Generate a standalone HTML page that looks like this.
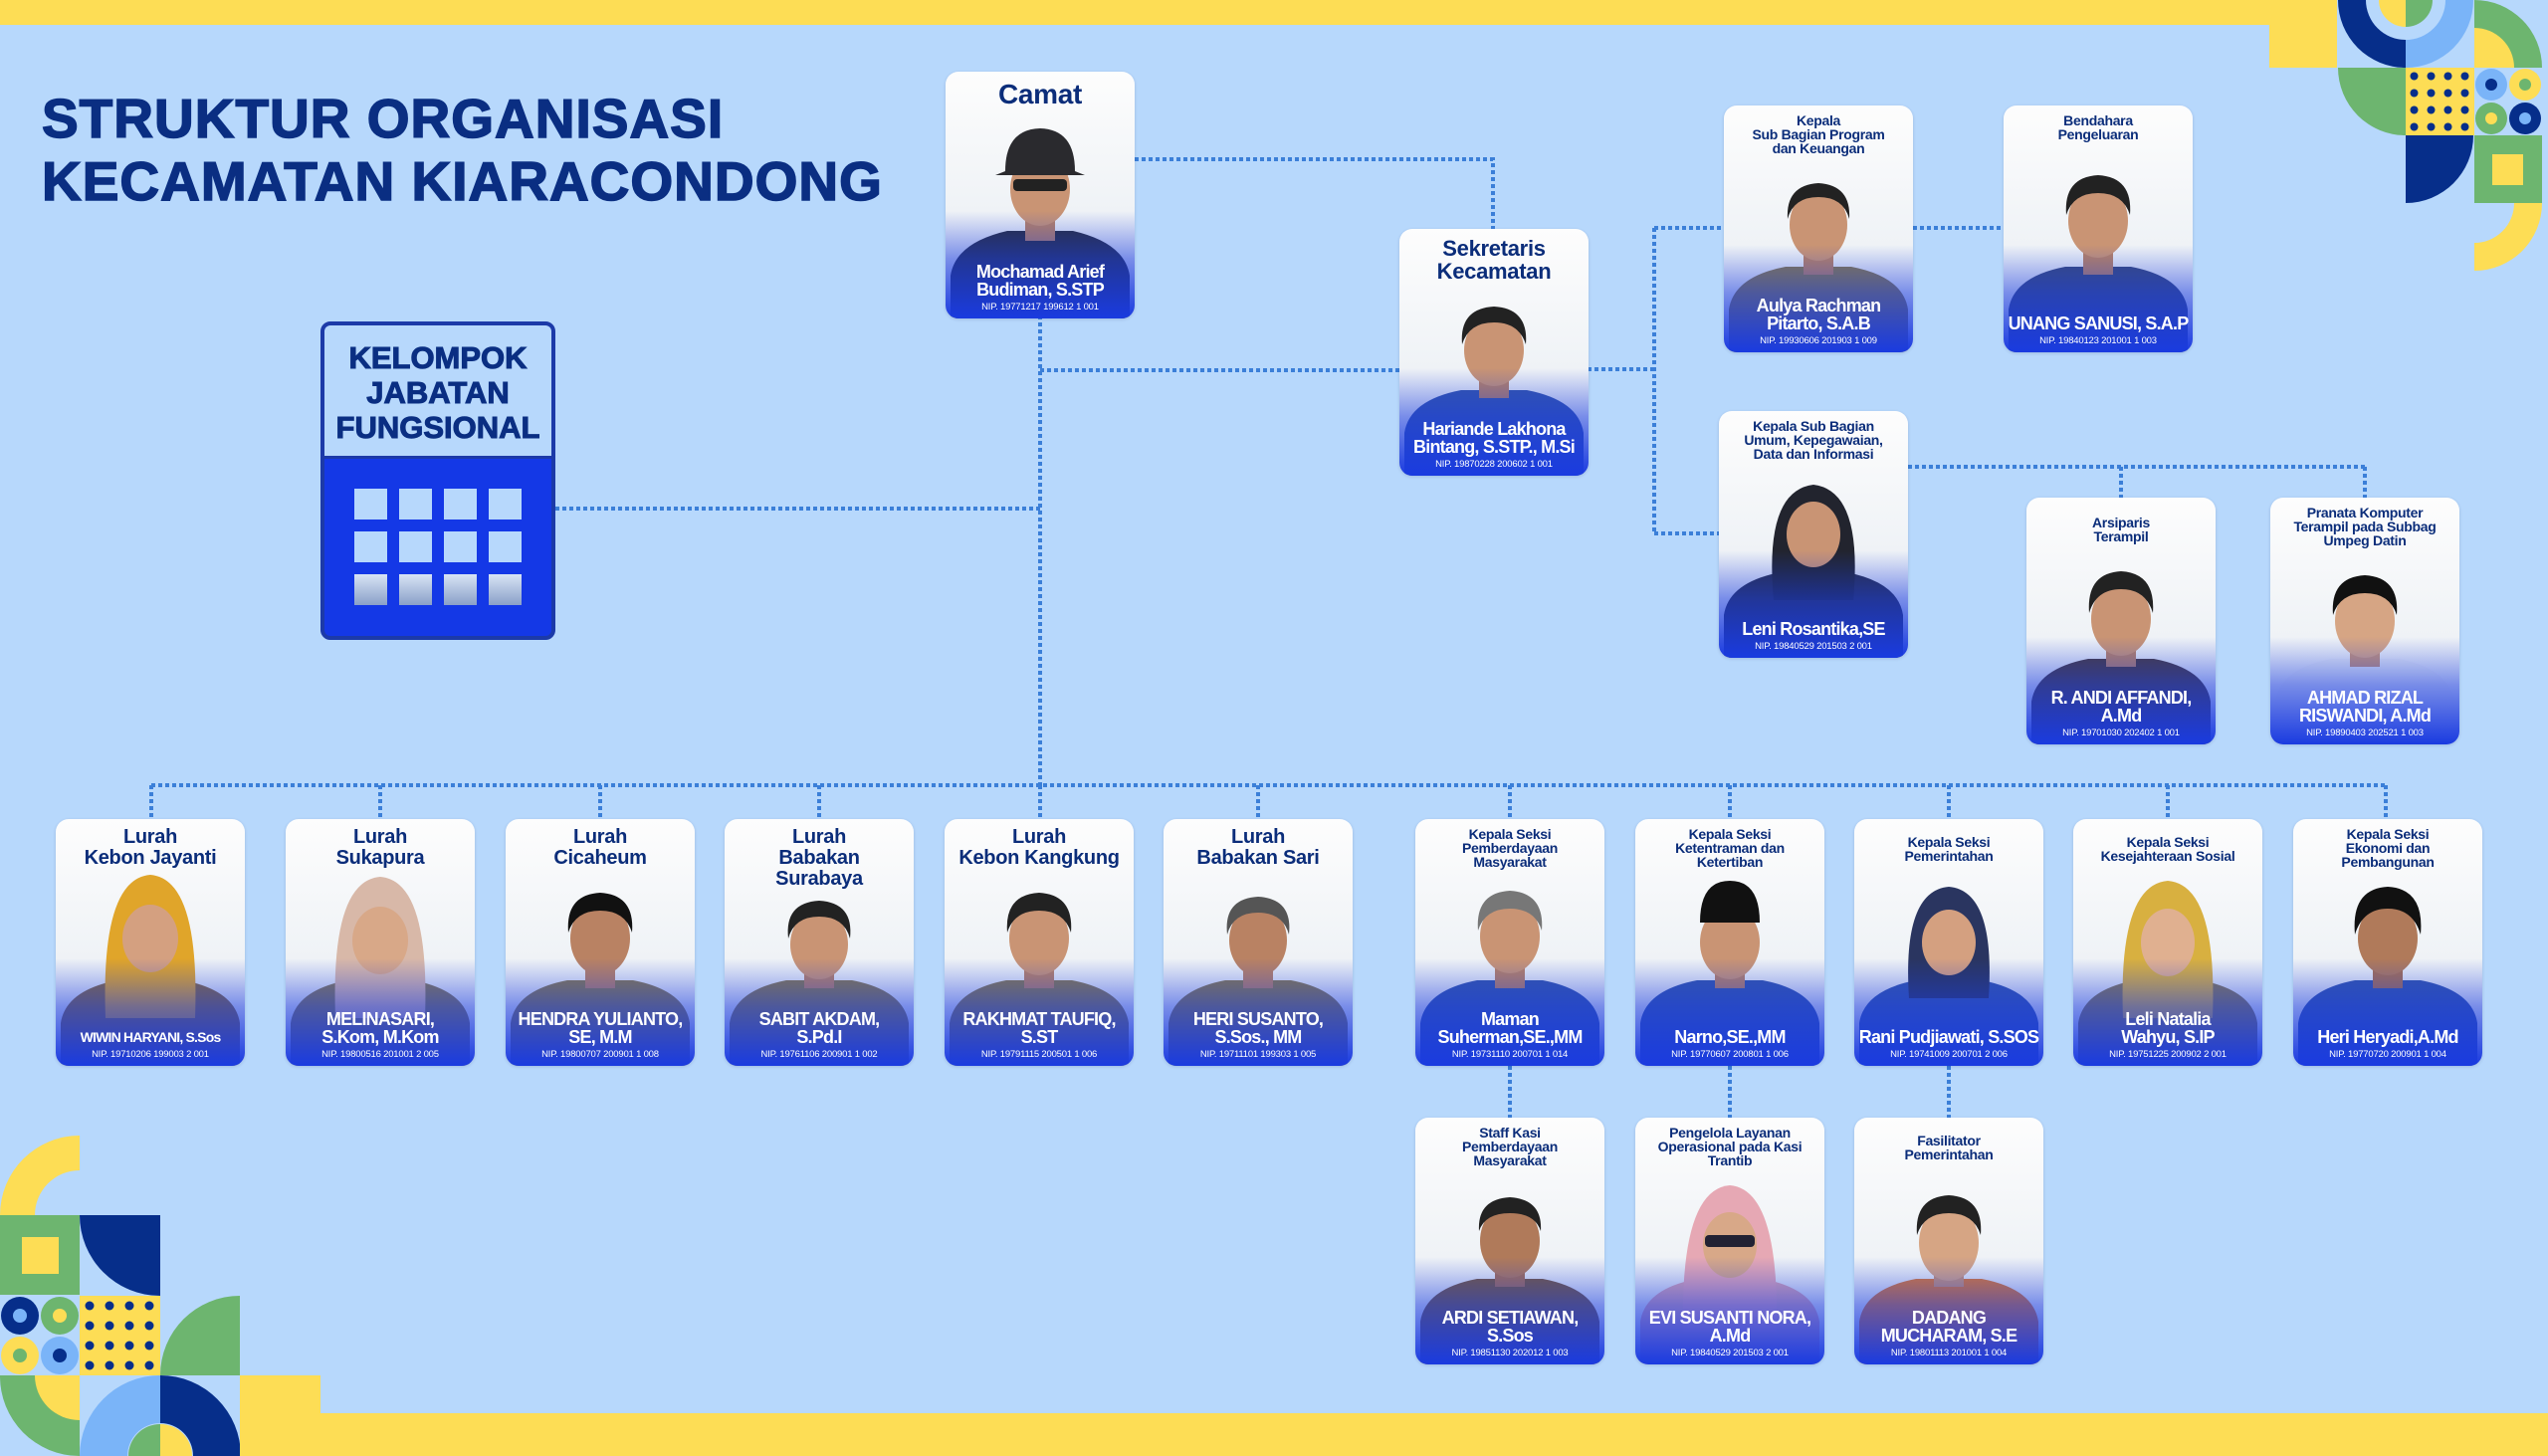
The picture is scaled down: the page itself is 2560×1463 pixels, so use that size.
<!DOCTYPE html>
<html><head><meta charset="utf-8">
<style>
*{margin:0;padding:0;box-sizing:border-box}
body{width:2560px;height:1463px;background:#b7d8fc;position:relative;overflow:hidden;font-family:"Liberation Sans",sans-serif}
.abs{position:absolute}
.card{position:absolute;width:190px;height:248px;border-radius:13px;overflow:hidden;background:linear-gradient(#fdfdfd,#e4eaf1);box-shadow:0 1px 3px rgba(0,0,60,.15)}
.card .t{position:absolute;top:8px;left:4px;right:4px;text-align:center;color:#0b2d7a;font-weight:bold;font-size:14px;line-height:14px;letter-spacing:-.3px;z-index:3}
.card .t.l{font-size:20px;line-height:21px}
.card svg{position:absolute;left:0;top:0}
.card .g{position:absolute;left:0;right:0;top:140px;bottom:0;background:linear-gradient(rgba(27,61,224,0) 0%,rgba(27,61,224,.55) 45%,#1a3be0 100%);z-index:2}
.card .b{position:absolute;left:4px;right:4px;bottom:6px;text-align:center;color:#fff;z-index:3}
.card .n{font-weight:bold;font-size:18px;line-height:18px;letter-spacing:-.8px}
.card .p{font-size:9.5px;margin-top:3px;letter-spacing:-.2px}
</style></head><body>

<div class="abs" style="left:0;top:0;width:2348px;height:25px;background:#fddd55"></div>
<div class="abs" style="left:2280px;top:0;width:68px;height:68px;background:#fddd55"></div>
<div class="abs" style="left:241px;top:1420px;width:2319px;height:43px;background:#fddd55"></div>

<svg class="abs" style="left:0;top:0" width="2560" height="1463">
 <defs><pattern id="dots" x="2417" y="68" width="17" height="17" patternUnits="userSpaceOnUse"><circle cx="8.5" cy="8.5" r="4" fill="#062e8a"/></pattern>
 <pattern id="dots2" x="80" y="1302" width="20" height="20" patternUnits="userSpaceOnUse"><circle cx="10" cy="10" r="4.5" fill="#062e8a"/></pattern></defs>
 <path d="M2349 0 A68 68 0 0 0 2417 68 V40 A40 40 0 0 1 2377 0Z" fill="#062e8a"/>
 <path d="M2417 68 A68 68 0 0 0 2485 0 H2457 A40 40 0 0 1 2417 40Z" fill="#7ab4f8"/>
 <path d="M2417 0 V27 A27 27 0 0 1 2390 0Z" fill="#fddd55"/>
 <path d="M2417 0 V27 A27 27 0 0 0 2444 0Z" fill="#6db56f"/>
 <path d="M2486 68 V0 A68 68 0 0 1 2554 68Z" fill="#6db56f"/>
 <path d="M2486 68 V28 A40 40 0 0 1 2526 68Z" fill="#fddd55"/>
 <path d="M2417 68 V136 A68 68 0 0 1 2349 68Z" fill="#6db56f"/>
 <rect x="2417" y="68" width="69" height="68" fill="#fddd55"/>
 <rect x="2417" y="68" width="69" height="68" fill="url(#dots)"/>
 <circle cx="2503" cy="85" r="16" fill="#7ab4f8"/><circle cx="2503" cy="85" r="6" fill="#062e8a"/>
 <circle cx="2537" cy="85" r="16" fill="#fddd55"/><circle cx="2537" cy="85" r="6" fill="#6db56f"/>
 <circle cx="2503" cy="119" r="16" fill="#6db56f"/><circle cx="2503" cy="119" r="6" fill="#fddd55"/>
 <circle cx="2537" cy="119" r="16" fill="#062e8a"/><circle cx="2537" cy="119" r="6" fill="#7ab4f8"/>
 <path d="M2417 136 H2485 A68 68 0 0 1 2417 204Z" fill="#062e8a"/>
 <rect x="2486" y="136" width="68" height="68" fill="#6db56f"/>
 <rect x="2504" y="155" width="31" height="31" fill="#fddd55"/>
 <path d="M2554 204 A68 68 0 0 1 2486 272 V244 A40 40 0 0 0 2526 204Z" fill="#fddd55"/>
 <path d="M80 1141 A80 80 0 0 0 0 1221 H35 A45 45 0 0 1 80 1176Z" fill="#fddd55"/>
 <rect x="0" y="1221" width="80" height="80" fill="#6db56f"/>
 <rect x="22" y="1243" width="37" height="37" fill="#fddd55"/>
 <path d="M80 1221 H161 V1302 A81 81 0 0 1 80 1221Z" fill="#062e8a"/>
 <circle cx="20" cy="1322" r="19" fill="#062e8a"/><circle cx="20" cy="1322" r="7" fill="#7ab4f8"/>
 <circle cx="60" cy="1322" r="19" fill="#6db56f"/><circle cx="60" cy="1322" r="7" fill="#fddd55"/>
 <circle cx="20" cy="1362" r="19" fill="#fddd55"/><circle cx="20" cy="1362" r="7" fill="#6db56f"/>
 <circle cx="60" cy="1362" r="19" fill="#7ab4f8"/><circle cx="60" cy="1362" r="7" fill="#062e8a"/>
 <rect x="80" y="1302" width="81" height="80" fill="#fddd55"/>
 <rect x="80" y="1302" width="81" height="80" fill="url(#dots2)"/>
 <path d="M241 1302 V1382 H161 A80 80 0 0 1 241 1302Z" fill="#6db56f"/>
 <path d="M0 1382 H80 V1463 A80 80 0 0 1 0 1382Z" fill="#6db56f"/>
 <path d="M35 1382 H80 V1427 A45 45 0 0 1 35 1382Z" fill="#fddd55"/>
 <path d="M80 1463 A81 81 0 0 1 161 1382 V1430 A33 33 0 0 0 128 1463Z" fill="#7ab4f8"/>
 <path d="M161 1382 A81 81 0 0 1 242 1463 H194 A33 33 0 0 0 161 1430Z" fill="#062e8a"/>
 <path d="M161 1463 H129 A32 32 0 0 1 161 1431Z" fill="#6db56f"/>
 <path d="M161 1463 H193 A32 32 0 0 0 161 1431Z" fill="#fddd55"/>
 <rect x="241" y="1382" width="81" height="81" fill="#fddd55"/>

 <g stroke="#3b7fd8" stroke-width="4" stroke-dasharray="4 3" fill="none">
  <path d="M1140 160 H1500 V230"/>
  <path d="M1045 317 V789"/>
  <path d="M1045 372 H1406"/>
  <path d="M558 511 H1045"/>
  <path d="M152 789 H2397"/>
  <path d="M152 789 V823 M382 789 V823 M603 789 V823 M823 789 V823 M1045 789 V823 M1264 789 V823 M1517 789 V823 M1738 789 V823 M1958 789 V823 M2178 789 V823 M2397 789 V823"/>
  <path d="M1595 371 H1662 M1662 229 V536 M1662 229 H1732 M1662 536 H1727"/>
  <path d="M1922 229 H2013"/>
  <path d="M1917 469 H2376 M2131 469 V500 M2376 469 V500"/>
  <path d="M1517 1071 V1123 M1738 1071 V1123 M1958 1071 V1123"/>
 </g>
</svg>

<div class="abs" style="left:42px;top:88px;color:#0a2e82;font-weight:bold;font-size:55px;line-height:63px;letter-spacing:1px;-webkit-text-stroke:1.5px #0a2e82">STRUKTUR ORGANISASI<br>KECAMATAN KIARACONDONG</div>

<div class="abs" style="left:322px;top:323px;width:236px;height:320px;border:4px solid #1c3aa8;border-radius:10px;overflow:hidden;background:#1438e6">
 <div style="height:134px;background:#b7d8fc;border-bottom:3px solid #1c3aa8;color:#0a2e82;font-weight:bold;font-size:31px;line-height:35px;text-align:center;padding-top:15px;-webkit-text-stroke:1px #0a2e82">KELOMPOK<br>JABATAN<br>FUNGSIONAL</div>
 <svg width="236" height="180" style="position:absolute;left:0;top:134px">
  <defs><linearGradient id="fd" x1="0" y1="0" x2="0" y2="1"><stop offset="0" stop-color="#d8e4f5"/><stop offset="1" stop-color="#8aa0c8"/></linearGradient></defs>
  <g fill="#b7d8fc">
   <rect x="30" y="30" width="33" height="31"/><rect x="75" y="30" width="33" height="31"/><rect x="120" y="30" width="33" height="31"/><rect x="165" y="30" width="33" height="31"/>
   <rect x="30" y="73" width="33" height="31"/><rect x="75" y="73" width="33" height="31"/><rect x="120" y="73" width="33" height="31"/><rect x="165" y="73" width="33" height="31"/>
  </g>
  <g fill="url(#fd)">
   <rect x="30" y="116" width="33" height="31"/><rect x="75" y="116" width="33" height="31"/><rect x="120" y="116" width="33" height="31"/><rect x="165" y="116" width="33" height="31"/>
  </g>
 </svg>
</div>

<div class="card" style="left:950px;top:72px"><div class="t l" style="font-size:28px;line-height:30px">Camat</div>
<svg width="190" height="248"><path d="M5 248 V205 Q10 172 62 160 H128 Q180 172 185 205 V248Z" fill="#2a2d3a"/><rect x="80" y="140" width="30" height="30" fill="#b98263"/><ellipse cx="95" cy="118" rx="30" ry="37" fill="#c99474"/><path d="M60 100 Q60 58 95 57 Q130 58 130 100 L140 104 H50Z" fill="#2a2a2e"/><rect x="68" y="108" width="54" height="12" rx="4" fill="#222"/></svg>
<div class="g"></div><div class="b"><div class="n">Mochamad Arief Budiman, S.STP</div><div class="p">NIP. 19771217 199612 1 001</div></div></div>

<div class="card" style="left:1406px;top:230px"><div class="t l" style="font-size:22px;line-height:23px">Sekretaris<br>Kecamatan</div>
<svg width="190" height="248"><path d="M5 248 V205 Q10 172 62 162 H128 Q180 172 185 205 V248Z" fill="#3556a8"/><rect x="80" y="140" width="30" height="30" fill="#b98263"/><ellipse cx="95" cy="122" rx="30" ry="36" fill="#c99474"/><path d="M63 116 Q60 80 95 78 Q130 80 127 116 Q120 94 95 94 Q70 94 63 116Z" fill="#222"/></svg>
<div class="g"></div><div class="b"><div class="n">Hariande Lakhona Bintang, S.STP., M.Si</div><div class="p">NIP. 19870228 200602 1 001</div></div></div>

<div class="card" style="left:1732px;top:106px"><div class="t">Kepala<br>Sub Bagian Program<br>dan Keuangan</div>
<svg width="190" height="248"><path d="M5 248 V205 Q10 172 62 162 H128 Q180 172 185 205 V248Z" fill="#8a7a4a"/><rect x="80" y="140" width="30" height="30" fill="#b98263"/><ellipse cx="95" cy="120" rx="29" ry="36" fill="#c99474"/><path d="M64 114 Q62 80 95 78 Q128 80 126 114 Q120 92 95 92 Q70 92 64 114Z" fill="#222"/></svg>
<div class="g"></div><div class="b"><div class="n">Aulya Rachman Pitarto, S.A.B</div><div class="p">NIP. 19930606 201903 1 009</div></div></div>

<div class="card" style="left:2013px;top:106px"><div class="t">Bendahara<br>Pengeluaran</div>
<svg width="190" height="248"><path d="M5 248 V205 Q10 172 62 162 H128 Q180 172 185 205 V248Z" fill="#3a4a78"/><rect x="80" y="140" width="30" height="30" fill="#b98263"/><ellipse cx="95" cy="116" rx="30" ry="37" fill="#c99474"/><path d="M63 110 Q60 72 95 70 Q130 72 127 110 Q120 88 95 88 Q70 88 63 110Z" fill="#222"/></svg>
<div class="g"></div><div class="b"><div class="n">UNANG SANUSI, S.A.P</div><div class="p">NIP. 19840123 201001 1 003</div></div></div>

<div class="card" style="left:1727px;top:413px"><div class="t">Kepala Sub Bagian<br>Umum, Kepegawaian,<br>Data dan Informasi</div>
<svg width="190" height="248"><path d="M5 248 V205 Q10 172 62 162 H128 Q180 172 185 205 V248Z" fill="#2a2d40"/><path d="M55 190 Q45 80 95 74 Q145 80 135 190Z" fill="#22242e"/><ellipse cx="95" cy="124" rx="27" ry="33" fill="#c99474"/></svg>
<div class="g"></div><div class="b"><div class="n">Leni Rosantika,SE</div><div class="p">NIP. 19840529 201503 2 001</div></div></div>

<div class="card" style="left:2036px;top:500px"><div class="t" style="top:18px">Arsiparis<br>Terampil</div>
<svg width="190" height="248"><path d="M5 248 V205 Q10 172 62 162 H128 Q180 172 185 205 V248Z" fill="#4a3a3a"/><rect x="80" y="140" width="30" height="30" fill="#b98263"/><ellipse cx="95" cy="122" rx="30" ry="37" fill="#c99474"/><path d="M63 116 Q60 76 95 74 Q130 76 127 116 Q120 92 95 92 Q70 92 63 116Z" fill="#222"/></svg>
<div class="g"></div><div class="b"><div class="n">R. ANDI AFFANDI, A.Md</div><div class="p">NIP. 19701030 202402 1 001</div></div></div>

<div class="card" style="left:2281px;top:500px"><div class="t">Pranata Komputer<br>Terampil pada Subbag<br>Umpeg Datin</div>
<svg width="190" height="248"><path d="M5 248 V205 Q10 172 62 162 H128 Q180 172 185 205 V248Z" fill="#e8ecf2"/><rect x="80" y="140" width="30" height="30" fill="#c99474"/><ellipse cx="95" cy="124" rx="30" ry="37" fill="#d6a584"/><path d="M63 118 Q60 80 95 78 Q130 80 127 118 Q120 96 95 96 Q70 96 63 118Z" fill="#111"/></svg>
<div class="g"></div><div class="b"><div class="n">AHMAD RIZAL RISWANDI, A.Md</div><div class="p">NIP. 19890403 202521 1 003</div></div></div>

<div class="card" style="left:56px;top:823px"><div class="t l">Lurah<br>Kebon Jayanti</div>
<svg width="190" height="248"><path d="M5 248 V205 Q10 172 62 162 H128 Q180 172 185 205 V248Z" fill="#8a6a3a"/><path d="M50 200 Q45 60 95 56 Q145 60 140 200Z" fill="#e0a52a"/><ellipse cx="95" cy="120" rx="28" ry="34" fill="#d4a080"/></svg>
<div class="g"></div><div class="b"><div class="n" style="font-size:14px">WIWIN HARYANI, S.Sos</div><div class="p">NIP. 19710206 199003 2 001</div></div></div>

<div class="card" style="left:287px;top:823px"><div class="t l">Lurah<br>Sukapura</div>
<svg width="190" height="248"><path d="M5 248 V205 Q10 172 62 162 H128 Q180 172 185 205 V248Z" fill="#8a7a50"/><path d="M50 200 Q45 62 95 58 Q145 62 140 200Z" fill="#d8b8a8"/><ellipse cx="95" cy="122" rx="28" ry="34" fill="#d8a888"/></svg>
<div class="g"></div><div class="b"><div class="n">MELINASARI,<br>S.Kom, M.Kom</div><div class="p">NIP. 19800516 201001 2 005</div></div></div>

<div class="card" style="left:508px;top:823px"><div class="t l">Lurah<br>Cicaheum</div>
<svg width="190" height="248"><path d="M5 248 V205 Q10 172 62 162 H128 Q180 172 185 205 V248Z" fill="#8a7a4a"/><rect x="80" y="140" width="30" height="30" fill="#b98263"/><ellipse cx="95" cy="120" rx="30" ry="37" fill="#b98263"/><path d="M63 114 Q60 76 95 74 Q130 76 127 114 Q120 92 95 92 Q70 92 63 114Z" fill="#111"/></svg>
<div class="g"></div><div class="b"><div class="n">HENDRA YULIANTO, SE, M.M</div><div class="p">NIP. 19800707 200901 1 008</div></div></div>

<div class="card" style="left:728px;top:823px"><div class="t l">Lurah<br>Babakan<br>Surabaya</div>
<svg width="190" height="248"><path d="M5 248 V205 Q10 172 62 162 H128 Q180 172 185 205 V248Z" fill="#8a7a4a"/><rect x="80" y="140" width="30" height="30" fill="#b98263"/><ellipse cx="95" cy="126" rx="29" ry="35" fill="#c99474"/><path d="M64 120 Q60 84 95 82 Q130 84 126 120 Q120 98 95 98 Q70 98 64 120Z" fill="#222"/></svg>
<div class="g"></div><div class="b"><div class="n">SABIT AKDAM,<br>S.Pd.I</div><div class="p">NIP. 19761106 200901 1 002</div></div></div>

<div class="card" style="left:949px;top:823px"><div class="t l">Lurah<br>Kebon Kangkung</div>
<svg width="190" height="248"><path d="M5 248 V205 Q10 172 62 162 H128 Q180 172 185 205 V248Z" fill="#8a7a4a"/><rect x="80" y="140" width="30" height="30" fill="#b98263"/><ellipse cx="95" cy="120" rx="30" ry="37" fill="#c99474"/><path d="M63 114 Q60 76 95 74 Q130 76 127 114 Q120 92 95 92 Q70 92 63 114Z" fill="#222"/></svg>
<div class="g"></div><div class="b"><div class="n">RAKHMAT TAUFIQ, S.ST</div><div class="p">NIP. 19791115 200501 1 006</div></div></div>

<div class="card" style="left:1169px;top:823px"><div class="t l">Lurah<br>Babakan Sari</div>
<svg width="190" height="248"><path d="M5 248 V205 Q10 172 62 162 H128 Q180 172 185 205 V248Z" fill="#8a7a4a"/><rect x="80" y="140" width="30" height="30" fill="#b98263"/><ellipse cx="95" cy="122" rx="29" ry="36" fill="#b98263"/><path d="M64 116 Q60 80 95 78 Q130 80 126 116 Q120 94 95 94 Q70 94 64 116Z" fill="#555"/></svg>
<div class="g"></div><div class="b"><div class="n">HERI SUSANTO, S.Sos., MM</div><div class="p">NIP. 19711101 199303 1 005</div></div></div>

<div class="card" style="left:1422px;top:823px"><div class="t">Kepala Seksi<br>Pemberdayaan<br>Masyarakat</div>
<svg width="190" height="248"><path d="M5 248 V205 Q10 172 62 162 H128 Q180 172 185 205 V248Z" fill="#3556a8"/><rect x="80" y="140" width="30" height="30" fill="#b98263"/><ellipse cx="95" cy="118" rx="30" ry="37" fill="#c99474"/><path d="M63 112 Q60 74 95 72 Q130 74 127 112 Q120 90 95 90 Q70 90 63 112Z" fill="#777"/></svg>
<div class="g"></div><div class="b"><div class="n">Maman Suherman,SE.,MM</div><div class="p">NIP. 19731110 200701 1 014</div></div></div>

<div class="card" style="left:1643px;top:823px"><div class="t">Kepala Seksi<br>Ketentraman dan<br>Ketertiban</div>
<svg width="190" height="248"><path d="M5 248 V205 Q10 172 62 162 H128 Q180 172 185 205 V248Z" fill="#3556a8"/><rect x="80" y="140" width="30" height="30" fill="#b98263"/><ellipse cx="95" cy="124" rx="30" ry="37" fill="#c99474"/><path d="M65 104 Q65 62 95 62 Q125 62 125 104Z" fill="#111"/></svg>
<div class="g"></div><div class="b"><div class="n">Narno,SE.,MM</div><div class="p">NIP. 19770607 200801 1 006</div></div></div>

<div class="card" style="left:1863px;top:823px"><div class="t" style="top:16px">Kepala Seksi<br>Pemerintahan</div>
<svg width="190" height="248"><path d="M5 248 V205 Q10 172 62 162 H128 Q180 172 185 205 V248Z" fill="#3556a8"/><path d="M55 180 Q48 72 95 68 Q142 72 135 180Z" fill="#2a3560"/><ellipse cx="95" cy="124" rx="27" ry="33" fill="#d4a080"/></svg>
<div class="g"></div><div class="b"><div class="n">Rani Pudjiawati, S.SOS</div><div class="p">NIP. 19741009 200701 2 006</div></div></div>

<div class="card" style="left:2083px;top:823px"><div class="t" style="top:16px">Kepala Seksi<br>Kesejahteraan Sosial</div>
<svg width="190" height="248"><path d="M5 248 V205 Q10 172 62 162 H128 Q180 172 185 205 V248Z" fill="#8a7a50"/><path d="M50 200 Q45 66 95 62 Q145 66 140 200Z" fill="#d8b040"/><ellipse cx="95" cy="124" rx="27" ry="34" fill="#e0b090"/></svg>
<div class="g"></div><div class="b"><div class="n">Leli Natalia<br>Wahyu, S.IP</div><div class="p">NIP. 19751225 200902 2 001</div></div></div>

<div class="card" style="left:2304px;top:823px"><div class="t">Kepala Seksi<br>Ekonomi dan<br>Pembangunan</div>
<svg width="190" height="248"><path d="M5 248 V205 Q10 172 62 162 H128 Q180 172 185 205 V248Z" fill="#3556a8"/><rect x="80" y="140" width="30" height="30" fill="#a87050"/><ellipse cx="95" cy="120" rx="30" ry="37" fill="#b07a5a"/><path d="M62 116 Q58 70 95 68 Q132 70 128 116 Q120 90 95 90 Q70 90 62 116Z" fill="#111"/></svg>
<div class="g"></div><div class="b"><div class="n">Heri Heryadi,A.Md</div><div class="p">NIP. 19770720 200901 1 004</div></div></div>

<div class="card" style="left:1422px;top:1123px"><div class="t">Staff Kasi<br>Pemberdayaan<br>Masyarakat</div>
<svg width="190" height="248"><path d="M5 248 V205 Q10 172 62 162 H128 Q180 172 185 205 V248Z" fill="#7a5a3a"/><rect x="80" y="140" width="30" height="30" fill="#a87050"/><ellipse cx="95" cy="124" rx="30" ry="37" fill="#b07a5a"/><path d="M64 114 Q62 82 95 80 Q128 82 126 114 Q120 96 95 96 Q70 96 64 114Z" fill="#222"/></svg>
<div class="g"></div><div class="b"><div class="n">ARDI SETIAWAN, S.Sos</div><div class="p">NIP. 19851130 202012 1 003</div></div></div>

<div class="card" style="left:1643px;top:1123px"><div class="t">Pengelola Layanan<br>Operasional pada Kasi<br>Trantib</div>
<svg width="190" height="248"><path d="M5 248 V205 Q10 172 62 162 H128 Q180 172 185 205 V248Z" fill="#e0a8b0"/><path d="M48 215 Q45 72 95 68 Q145 72 142 215Z" fill="#e6a8b4"/><ellipse cx="95" cy="128" rx="27" ry="33" fill="#d8a888"/><rect x="70" y="118" width="50" height="12" rx="4" fill="#223"/></svg>
<div class="g"></div><div class="b"><div class="n">EVI SUSANTI NORA, A.Md</div><div class="p">NIP. 19840529 201503 2 001</div></div></div>

<div class="card" style="left:1863px;top:1123px"><div class="t" style="top:16px">Fasilitator<br>Pemerintahan</div>
<svg width="190" height="248"><path d="M5 248 V205 Q10 172 62 162 H128 Q180 172 185 205 V248Z" fill="#e07a30"/><rect x="80" y="140" width="30" height="30" fill="#c99474"/><ellipse cx="95" cy="126" rx="30" ry="38" fill="#d6a584"/><path d="M63 118 Q60 80 95 78 Q130 80 127 118 Q120 96 95 96 Q70 96 63 118Z" fill="#222"/></svg>
<div class="g"></div><div class="b"><div class="n">DADANG MUCHARAM, S.E</div><div class="p">NIP. 19801113 201001 1 004</div></div></div>

</body></html>
